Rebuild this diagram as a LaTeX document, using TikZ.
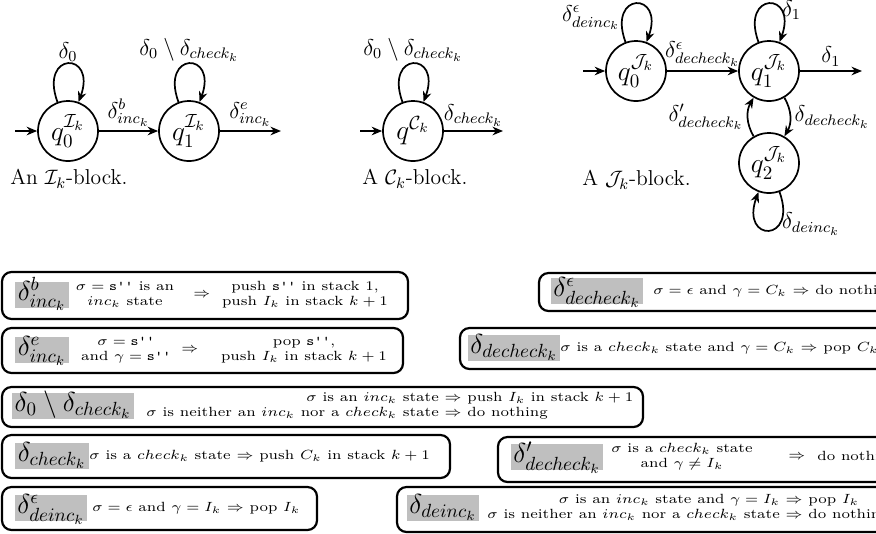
\documentclass[tikz,border=0pt]{standalone}
\usepackage{amsmath,amssymb,graphicx}
\usetikzlibrary{arrows.meta}
\newcommand{\bx}[1]{\scalebox{1.12}[1]{\scriptsize #1}}
\newcommand{\sqs}{\texttt{s''}}
\begin{document}
\begin{tikzpicture}[x=0.525pt,y=0.525pt,
  >={Stealth[length=5.5pt,width=4.5pt]},
  st/.style={circle,draw,line width=0.9pt,minimum size=31.5pt,inner sep=0pt,font=\Large},
  arr/.style={->,line width=0.9pt},
  elab/.style={font=\large,inner sep=2pt},
  llab/.style={font=\large,inner sep=0.8pt},
  captxt/.style={anchor=west,inner sep=0pt,font=\fontsize{11.3}{13}\selectfont},
  lpa/.style={arr,out=110,in=70,looseness=1,min distance=10mm},
  lpb/.style={arr,out=290,in=250,looseness=1,min distance=10mm},
  tbox/.style={draw,rounded corners=5pt,line width=1.15pt,inner sep=0pt},
  glab/.style={fill=black!25,inner xsep=1.5pt,inner ysep=0pt,text height=9.8pt,text depth=4pt,font=\Large},
  btxt/.style={inner sep=0pt},
]
\useasboundingbox (0,-533) rectangle (876,0);
\clip (0,-533) rectangle (876,0);

% ---------- I_k block
\node[st] (Iq0) at (68,-131) {$q_0^{\mathcal{I}_k}$};
\node[st] (Iq1) at (189,-131) {$q_1^{\mathcal{I}_k}$};
\coordinate (Iin) at (15,-131);
\coordinate (Iout) at (281,-131);
\draw[arr] (Iin) -- (Iq0);
\draw[arr] (Iq0) -- node[above,elab] {$\delta^b_{inc_k}$} (Iq1);
\draw[arr] (Iq1) -- node[above,elab] {$\delta^e_{inc_k}$} (Iout);
\draw[lpa] (Iq0) to node[above,llab] {$\delta_0$} (Iq0);
\draw[lpa] (Iq1) to node[above,llab] {$\delta_0\setminus\delta_{check_k}$} (Iq1);
\node[captxt] (Icap) at (10,-179) {An $\mathcal{I}_k$-block.};

% ---------- C_k block
\node[st] (Cq) at (413,-131) {$q^{\mathcal{C}_k}$};
\coordinate (Cin) at (360,-131);
\coordinate (Cout) at (503,-131);
\draw[arr] (Cin) -- (Cq);
\draw[arr] (Cq) -- node[above,elab] {$\delta_{check_k}$} (Cout);
\draw[lpa] (Cq) to node[above,llab] {$\delta_0\setminus\delta_{check_k}$} (Cq);
\node[captxt] (Ccap) at (362,-179) {A $\mathcal{C}_k$-block.};

% ---------- J_k block
\node[st] (Jq0) at (636,-71) {$q_0^{\mathcal{J}_k}$};
\node[st] (Jq1) at (769,-71) {$q_1^{\mathcal{J}_k}$};
\node[st] (Jq2) at (769,-163) {$q_2^{\mathcal{J}_k}$};
\coordinate (Jin) at (583,-71);
\coordinate (Jout) at (862,-71);
\draw[arr] (Jin) -- (Jq0);
\draw[arr] (Jq0) -- node[above,elab] {$\delta^{\epsilon}_{decheck_k}$} (Jq1);
\draw[arr] (Jq1) -- node[above,elab] {$\delta_1$} (Jout);
\draw[lpa] (Jq0) to node[pos=0.2,left,llab] {$\delta^{\epsilon}_{deinc_k}$} (Jq0);
\draw[lpa] (Jq1) to node[pos=0.7,right,llab] {$\delta_1$} (Jq1);
\draw[arr] (Jq1) to[out=-60,in=60] node[right,elab] {$\delta_{decheck_k}$} (Jq2);
\draw[arr] (Jq2) to[out=120,in=240] node[left,elab] {$\delta'_{decheck_k}$} (Jq1);
\draw[lpb] (Jq2) to node[pos=0.3,right,llab] {$\delta_{deinc_k}$} (Jq2);
\node[captxt] (Jcap) at (582,-180) {A $\mathcal{J}_k$-block.};

% ---------- boxes (left column)
\draw[tbox] (2,-272) rectangle (408,-319);
\node[glab] (g1) at (42,-295) {$\delta^b_{inc_k}$};
\node[btxt] (c1) at (125,-295) {\bx{\begin{tabular}{@{}c@{}}$\sigma=\sqs$ is an\\ $inc_k$ state\end{tabular}}};
\node[btxt] (i1) at (202,-295) {\bx{$\Rightarrow$}};
\node[btxt] (a1) at (305,-295) {\bx{\begin{tabular}{@{}c@{}}push \sqs{} in stack 1,\\ push $I_k$ in stack $k+1$\end{tabular}}};

\draw[tbox] (2,-328) rectangle (403,-373);
\node[glab] (g2) at (42,-350) {$\delta^e_{inc_k}$};
\node[btxt] (c2) at (126,-350) {\bx{\begin{tabular}{@{}c@{}}$\sigma=\sqs$\\ and $\gamma=\sqs$\end{tabular}}};
\node[btxt] (i2) at (190,-350) {\bx{$\Rightarrow$}};
\node[btxt] (a2) at (304,-350) {\bx{\begin{tabular}{@{}c@{}}pop \sqs,\\ push $I_k$ in stack $k+1$\end{tabular}}};

\draw[tbox] (2,-387) rectangle (643,-427);
\node[glab] (g3) at (73,-406) {$\delta_0\setminus\delta_{check_k}$};
\node[btxt,anchor=west] (t3) at (146,-406) {\bx{\begin{tabular}{@{}r@{\ $\Rightarrow$\ }l@{}}$\sigma$ is an $inc_k$ state & push $I_k$ in stack $k+1$\\ $\sigma$ is neither an $inc_k$ nor a $check_k$ state & do nothing\end{tabular}}};

\draw[tbox] (2,-435) rectangle (450,-478);
\node[glab] (g4) at (52,-456) {$\delta_{check_k}$};
\node[btxt,anchor=west] (t4) at (89,-456) {\bx{$\sigma$ is a $check_k$ state $\Rightarrow$ push $C_k$ in stack $k+1$}};

\draw[tbox] (2,-487) rectangle (317,-530);
\node[glab] (g5) at (51,-508) {$\delta^{\epsilon}_{deinc_k}$};
\node[btxt,anchor=west] (t5) at (92,-508) {\bx{$\sigma=\epsilon$ and $\gamma=I_k$ $\Rightarrow$ pop $I_k$}};

% ---------- boxes (right column, cut by the frame)
\draw[tbox] (539,-273) rectangle (920,-311);
\node[glab] (g6) at (597,-291) {$\delta^{\epsilon}_{decheck_k}$};
\node[btxt,anchor=west] (t6) at (653,-291) {\bx{$\sigma=\epsilon$ and $\gamma=C_k$ $\Rightarrow$ do nothing}};

\draw[tbox] (460,-328) rectangle (920,-369);
\node[glab] (g7) at (514,-348) {$\delta_{decheck_k}$};
\node[btxt,anchor=west] (t7) at (560,-348) {\bx{$\sigma$ is a $check_k$ state and $\gamma=C_k$ $\Rightarrow$ pop $C_k$}};

\draw[tbox] (498,-437) rectangle (920,-482);
\node[glab] (g8) at (557,-457) {$\delta'_{decheck_k}$};
\node[btxt] (c8) at (682,-457) {\bx{\begin{tabular}{@{}c@{}}$\sigma$ is a $check_k$ state\\ and $\gamma\neq I_k$\end{tabular}}};
\node[btxt] (i8) at (797,-457) {\bx{$\Rightarrow$}};
\node[btxt,anchor=west] (a8) at (817,-457) {\bx{do nothing}};

\draw[tbox] (397,-487) rectangle (920,-532);
\node[glab] (g9) at (443,-508) {$\delta_{deinc_k}$};
\node[btxt,anchor=west] (t9) at (487,-508) {\bx{\begin{tabular}{@{}r@{\ $\Rightarrow$\ }l@{}}$\sigma$ is an $inc_k$ state and $\gamma=I_k$ & pop $I_k$\\ $\sigma$ is neither an $inc_k$ nor a $check_k$ state & do nothing\end{tabular}}};
\end{tikzpicture}
\end{document}
